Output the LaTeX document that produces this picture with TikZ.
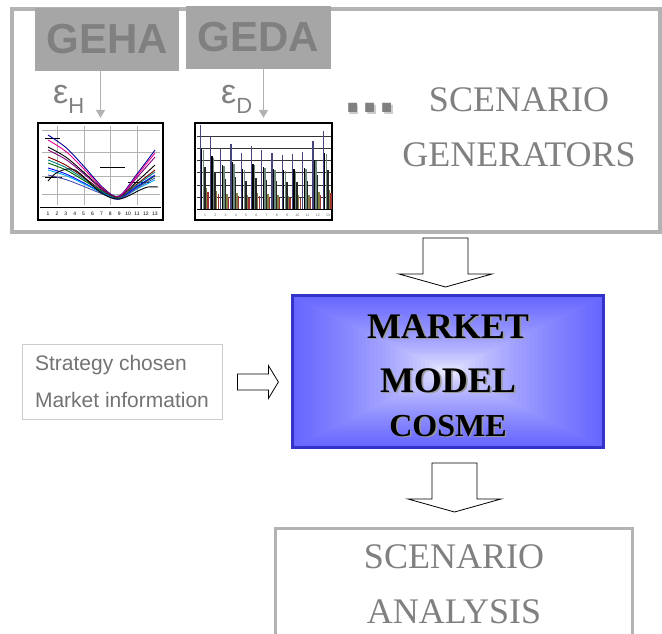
\documentclass[tikz,border=0pt]{standalone}
\usepackage{fontspec}
\setmainfont{Liberation Serif}
\setsansfont{Liberation Sans}
\usetikzlibrary{arrows.meta, positioning, calc}

\definecolor{mktblue}{RGB}{102,102,255}
\definecolor{mktedge}{RGB}{51,51,204}
\definecolor{txtgray}{RGB}{128,128,128}
\definecolor{framegray}{RGB}{179,179,179}
\definecolor{genfill}{RGB}{166,166,166}
\definecolor{barnavy}{RGB}{70,70,125}
\definecolor{bargreen}{RGB}{110,140,125}
\definecolor{barolive}{RGB}{130,130,70}
\definecolor{barred}{RGB}{160,50,50}

% text with a small drop shadow
\newcommand{\shadowed}[2][black!40]{\makebox[0pt][l]{\hspace{1.6pt}\raisebox{-1.6pt}{\textcolor{#1}{#2}}}#2}
% hollow block arrows (start = shaft top centre / shaft left centre)
\newcommand{\hollowdown}[1]{\draw[hollow] #1 ++(-22.5,0) -- ++(45,0) -- ++(0,36) -- ++(24,0) -- ++(-46.5,13) -- ++(-46.5,-13) -- ++(24,0) -- cycle;}
\newcommand{\hollowright}[1]{\draw[hollow] #1 ++(0,-8) -- ++(31,0) -- ++(0,-8.5) -- ++(10,16.5) -- ++(-10,16.5) -- ++(0,-8.5) -- ++(-31,0) -- cycle;}

\begin{document}
\begin{tikzpicture}[x=1pt, y=-1pt,
  frame/.style={draw=framegray, line width=3.5pt, inner sep=0pt},
  genbox/.style={fill=genfill, text=black!50, inner sep=0pt, minimum height=63pt,
    font=\sffamily\bfseries\fontsize{42}{42}\selectfont},
  epslab/.style={text=txtgray, inner sep=0pt, font=\sffamily\fontsize{34}{34}\selectfont},
  epsarrow/.style={draw=black!30, line width=1.5pt, -{Triangle[width=9pt,length=8pt]}},
  chart/.style={draw=black, line width=1.2pt, fill=white, inner sep=0pt, minimum height=97pt},
  ticklab/.style={inner sep=0pt, font=\sffamily\fontsize{5}{5}\selectfont},
  tinylab/.style={inner sep=0pt, text=black!60, font=\sffamily\fontsize{3.5}{3.5}\selectfont},
  bigtxt/.style={text=txtgray, align=center, font=\fontsize{36}{55}\selectfont},
  hollow/.style={draw=black, line width=0.8pt, fill=white, line join=miter},
  modelbox/.style={draw=mktedge, line width=3pt, inner sep=0pt, align=center,
    minimum width=311pt, minimum height=152pt, font=\bfseries\fontsize{36}{54}\selectfont,
    path picture={
      \foreach \i in {0,...,39}{
        \pgfmathsetmacro{\fr}{1-\i/40}
        \pgfmathsetmacro{\pc}{100*(\fr)^0.6}
        \fill[mktblue!\pc!white] ($(path picture bounding box.center)+(-156*\fr,-76*\fr)$)
          rectangle ($(path picture bounding box.center)+(156*\fr,76*\fr)$);
      }}},
  infobox/.style={draw=black!20, line width=0.8pt, inner sep=0pt, align=left,
    minimum width=200pt, minimum height=75pt, text=black!55,
    font=\sffamily\fontsize{21}{37}\selectfont}
]
\useasboundingbox (0,0) rectangle (662,634);

% Scenario generators frame
\node[frame, minimum width=648pt, minimum height=223pt] (genframe) at (336,120.5) {};
\node[genbox, minimum width=144pt] (geha) at (107,39.5) {GEHA};
\node[genbox, minimum width=145pt] (geda) at (258.5,37.5) {GEDA};

% Charts
\node[chart, minimum width=125pt] (chartH) at (100.5,171.5) {};
\node[chart, minimum width=137pt] (chartD) at (263.5,171.5) {};

% hourly chart: grid, curves, axis
\foreach \yy in {130,152,176,194}
  \draw[gray!60, line width=0.7pt] (42,\yy) -- (160,\yy);
\foreach \xx in {57,84,110,137}
  \draw[gray!60, line width=0.7pt] (\xx,126) -- (\xx,205);
\draw[black, line width=0.7pt] (45,138) -- (60,138) (100,167) -- (125,167) (45,177) -- (62,177) (128,182) -- (150,182);
\foreach \s/\e/\col in {135/150/blue!60!black, 140/153/magenta, 147/165/black, 150/157/violet,
    157/170/red!50!black, 160/172/teal, 163/176/green!40!black, 168/175/blue,
    170/180/cyan, 175/178/blue!40!gray}
  \draw[\col, line width=0.9pt] plot[smooth, tension=0.55] coordinates {(48,\s) (66,{\s+0.2*(198-\s)})
    (84,{\s+0.5*(198-\s)}) (104,{\s+0.85*(198-\s)}) (119,{196+(\s-135)/12})
    (137,{\e+0.5*(198-\e)}) (155,\e)};
\draw[black, line width=0.9pt] plot[smooth, tension=0.55] coordinates {(48,181) (58,172) (75,170)
  (100,192) (119,199) (140,190) (148,187) (158,187)};
\draw[black, line width=0.8pt] (40,207) -- (161,207);
\foreach \i in {1,...,13}
  \node[ticklab] (hx\i) at ({48+8.9*(\i-1)},213.5) {\i};

% daily chart: grid, bars, axis
\foreach \yy in {136,148.2,160.4,172.6,184.8,197}
  \draw[black!80, line width=0.6pt] (197,\yy) -- (331,\yy);
\foreach \g/\top in {1/125,2/136,3/148,4/144,5/153,6/146,7/150,8/153,9/155,10/154,11/152,12/141,13/131}{
  \pgfmathsetmacro{\bx}{199.5+10.25*(\g-1)}
  \foreach \k/\fr/\col in {0/1/barnavy, 1/0.72/black, 2/0.7/bargreen, 3/0.5/black!85, 4/0.25/barolive, 5/0.2/barred}
    \fill[\col] ({\bx+1.55*\k},209) rectangle ++(1.4,{-\fr*(209-\top)});
}
\draw[black, line width=0.8pt] (197,209) -- (331,209);
\foreach \i in {1,...,13}
  \node[tinylab] (dx\i) at ({205+10.25*(\i-1)},215) {\i};

% Disturbance arrows
\draw[epsarrow] (chartH.north |- geha.south) -- ([yshift=4.5pt]chartH.north);
\draw[epsarrow] (chartD.north |- geda.south) -- ([yshift=4.5pt]chartD.north);
\node[epslab, anchor=base west] (epsH) at (53,103) {ε\raisebox{-10pt}{\fontsize{22}{22}\selectfont H}};
\node[epslab, anchor=base west] (epsD) at (221,103) {ε\raisebox{-10pt}{\fontsize{22}{22}\selectfont D}};

\node[text=txtgray, inner sep=0pt, anchor=base, font=\sffamily\bfseries\fontsize{62}{62}\selectfont] (dots) at (370,113) {\shadowed[black!20]{...}};
\node[bigtxt] (gentext) at (519,127.5) {SCENARIO\\GENERATORS};

% Market model
\node[modelbox] (model) at (448,371.5) {\rule{0pt}{33pt}\shadowed{MARKET}\\ \shadowed{MODEL}\\[-10pt] {\fontsize{32}{32}\selectfont\shadowed{COSME}}};

% Inputs
\node[infobox] (strat) at (122,381.5) {Strategy chosen\\Market information};

% Scenario analysis
\node[frame, bigtxt, minimum width=357pt, minimum height=112pt] (ana) at (454,584.5) {SCENARIO\\ANALYSIS};

% Block arrows
\hollowdown{($(model.north)+(-2.5,-56)$)}
\hollowdown{($(model.south)+(6.5,14)$)}
\hollowright{($(strat.east)+(15,0.5)$)}
\end{tikzpicture}
\end{document}
